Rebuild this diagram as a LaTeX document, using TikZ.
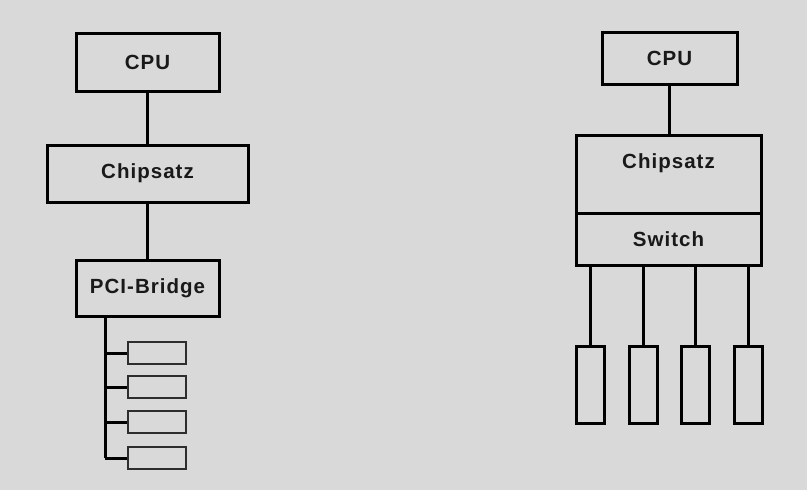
\documentclass[tikz,border=0pt]{standalone}
\usepackage{fontspec}
\setmainfont{Liberation Sans}[LetterSpace=5]
\definecolor{bg}{RGB}{217,217,217}
\definecolor{txt}{RGB}{25,25,25}
\definecolor{devgray}{RGB}{45,45,45}
\begin{document}
\begin{tikzpicture}[x=1pt,y=-1pt,
  box/.style={draw=black,line width=3pt,rectangle,inner sep=0pt,font=\bfseries\fontsize{20.5}{24}\selectfont,text=txt},
  link/.style={draw=black,line width=3pt},
  dev/.style={draw=devgray,line width=2.8pt,rectangle,inner sep=0pt,minimum width=58pt,minimum height=22pt},
  port/.style={draw=black,line width=3pt,rectangle,inner sep=0pt,minimum width=28pt,minimum height=77pt}]
\fill[bg] (0,0) rectangle (807,490);
\useasboundingbox (0,0) rectangle (807,490);
% left
\node[box,minimum width=143pt,minimum height=58pt] (cpuL) at (147.5,62) {CPU};
\node[box,minimum width=201pt,minimum height=57pt] (chipL) at (147.5,173.5) {Chipsatz};
\node[box,minimum width=143pt,minimum height=56pt] (bridge) at (147.5,288) {PCI-Bridge};
\draw[link] (cpuL.south) -- (chipL.north);
\draw[link] (chipL.south) -- (bridge.north);
\coordinate (busend) at (105,458);
\draw[link] (bridge.south -| busend) -- (busend);
\foreach \i/\y in {1/353,2/387,3/422,4/458}{
  \node[dev] (dev\i) at (157,\y) {};
  \draw[link] (dev\i.west -| busend) -- (dev\i.west);
}
% right
\node[box,minimum width=135pt,minimum height=52pt] (cpuR) at (669.5,58) {CPU};
\node[box,minimum width=185pt,minimum height=78pt,label={[yshift=11pt,font=\bfseries\fontsize{20.5}{24}\selectfont,text=txt]center:Chipsatz}] (chipR) at (668.5,174) {};
\node[box,minimum width=185pt,minimum height=52pt] (switch) at (668.5,239) {Switch};
\draw[link] (cpuR.south) -- (cpuR.south |- chipR.north);
\foreach \i/\x in {1/590,2/643,3/695,4/748}{
  \node[port] (p\i) at (\x,384.5) {};
  \draw[link] (switch.south -| p\i) -- (p\i.north);
}
\end{tikzpicture}
\end{document}
